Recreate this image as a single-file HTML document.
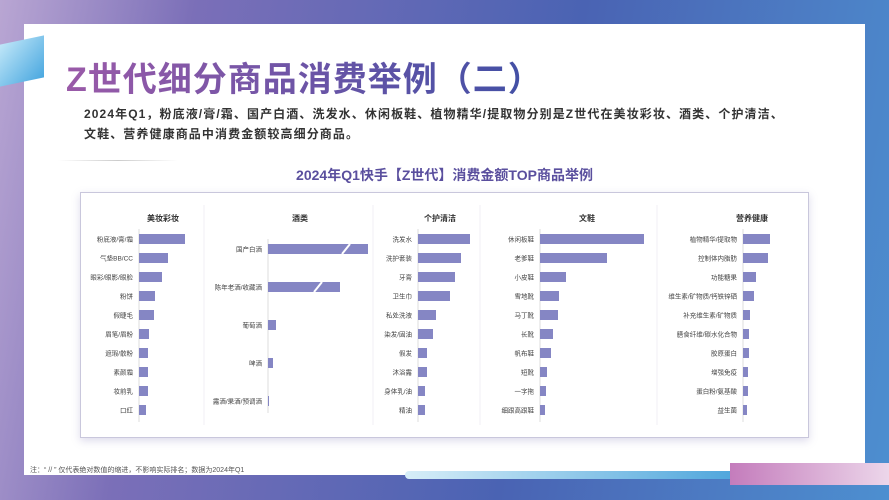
<!DOCTYPE html>
<html><head><meta charset="utf-8"><style>
body{margin:0;width:889px;height:500px;overflow:hidden;font-family:"Liberation Sans","Noto Sans CJK SC",sans-serif;}
#bg{position:absolute;left:0;top:0;width:889px;height:500px;background:linear-gradient(100deg,#b9a6d3 0%,#7b6fb8 20%,#4a63b3 60%,#4d8fd0 100%);}
#card{position:absolute;left:24px;top:24px;width:841px;height:451px;background:#fff;}
.t{position:absolute;white-space:nowrap;}
</style></head><body>
<div id="bg"></div>
<div id="card"></div>
<div style="position:absolute;left:0;top:40px;width:44px;height:42px;background:linear-gradient(135deg,#bfe6f8,#4aa8e0);transform:skewY(-12deg);"></div>
<div class="t" style="left:66px;top:52px;font-size:34px;font-weight:bold;color:#4b4fa6;background:linear-gradient(90deg,#9a5aa8,#3f4fa5);-webkit-background-clip:text;color:transparent;letter-spacing:1px;">Z世代细分商品消费举例（二）</div>
<div class="t" style="left:84px;top:104px;font-size:12px;font-weight:bold;color:#333;line-height:20px;letter-spacing:1.1px;">2024年Q1，粉底液/膏/霜、国产白酒、洗发水、休闲板鞋、植物精华/提取物分别是Z世代在美妆彩妆、酒类、个护清洁、<br>文鞋、营养健康商品中消费金额较高细分商品。</div>
<div style="position:absolute;left:58px;top:160px;width:120px;height:1px;background:linear-gradient(90deg,#fff,#ccc,#fff);"></div>
<div class="t" style="left:0;width:889px;text-align:center;top:165px;font-size:14px;font-weight:bold;color:#5a4f9e;">2024年Q1快手【Z世代】消费金额TOP商品举例</div>
<div style="position:absolute;left:80px;top:192px;width:727px;height:244px;border:1px solid #c9c7dc;box-shadow:0 3px 8px rgba(120,110,180,.25);background:#fff;"></div>
<svg id="chart" width="889" height="500" style="position:absolute;left:0;top:0"></svg>
<div class="t" style="left:30px;top:465px;font-size:7px;color:#555;">注：“ // ” 仅代表绝对数值的缩进，不影响实际排名；数据为2024年Q1</div>
<div style="position:absolute;left:405px;top:471px;width:330px;height:8px;border-radius:4px;background:linear-gradient(90deg,#d7eef8,#4fa6dc);"></div>
<div style="position:absolute;left:730px;top:463px;width:159px;height:22px;background:linear-gradient(90deg,#c47cbc,#ecd6ea);"></div>
<script>
const makeupLabels=["粉底液/膏/霜","气垫BB/CC","眼彩/眼影/眼脸","粉饼","假睫毛","眉笔/眉粉","遮瑕/散粉","素颜霜","妆前乳","口红"];
const makeupValues=[46,29,23,16,15,10,9,9,9,7];
const liquorLabels=["国产白酒","陈年老酒/收藏酒","葡萄酒","啤酒","露酒/果酒/预调酒"];
const liquorValues=[100,72,8,5,1];
const careLabels=["洗发水","洗护套装","牙膏","卫生巾","私处洗液","染发/固油","假发","沐浴露","身体乳/油","精油"];
const careValues=[52,43,37,32,18,15,9,9,7,7];
const shoeLabels=["休闲板鞋","老爹鞋","小皮鞋","雪地靴","马丁靴","长靴","帆布鞋","短靴","一字拖","细跟高跟鞋"];
const shoeValues=[104,67,26,19,18,13,11,7,6,5];
const healthLabels=["植物精华/提取物","控制体内脂肪","功能糖果","维生素/矿物质/钙铁锌硒","补充维生素/矿物质","膳食纤维/碳水化合物","胶原蛋白","增强免疫","蛋白粉/氨基酸","益生菌"];
const healthValues=[27,25,13,11,7,6,6,5,5,4];
const panels=[
 {title:"美妆彩妆",tx:163,ax:139,y0:239,step:19,labels:makeupLabels,values:makeupValues,breaks:[]},
 {title:"酒类",tx:300,ax:268,y0:249,step:38,labels:liquorLabels,values:liquorValues,breaks:[0,1]},
 {title:"个护清洁",tx:440,ax:418,y0:239,step:19,labels:careLabels,values:careValues,breaks:[]},
 {title:"文鞋",tx:587,ax:540,y0:239,step:19,labels:shoeLabels,values:shoeValues,breaks:[]},
 {title:"营养健康",tx:752,ax:743,y0:239,step:19,labels:healthLabels,values:healthValues,breaks:[]}];
const svg=document.getElementById('chart');const NS="http://www.w3.org/2000/svg";
function mk(tag,a){const e=document.createElementNS(NS,tag);for(const k in a)e.setAttribute(k,a[k]);svg.appendChild(e);return e;}
[204,373,480,657].forEach(x=>{const l=mk('line',{x1:x,x2:x,y1:205,y2:425,stroke:'#f0eff5','stroke-width':1});

});
panels.forEach((p,pi)=>{
 const t=mk('text',{x:p.tx,y:221,'text-anchor':'middle','font-size':8,'font-weight':'bold',fill:'#333'});t.textContent=p.title;
 
 
 const last=p.y0+p.step*(p.values.length-1);
 const ax=mk('line',{x1:p.ax,x2:p.ax,y1:p.y0-10,y2:last+12,stroke:'#ddd','stroke-width':1});
 
 
 p.values.forEach((v,i)=>{
  const y=p.y0+p.step*i;
  const lb=mk('text',{x:p.ax-6,y:y+2.5,'text-anchor':'end','font-size':6.5,fill:'#444'});lb.textContent=p.labels[i];
  
  
  const r=mk('rect',{x:p.ax,y:y-5,width:v,height:10,fill:'#8586c4'});
  
  
  if(p.breaks.includes(i)){const bx=p.ax+v-22;const s=mk('line',{x1:bx-4,y1:y+5,x2:bx+4,y2:y-5,stroke:'#fff','stroke-width':2});
   
   }
 });
});
</script>
</body></html>
